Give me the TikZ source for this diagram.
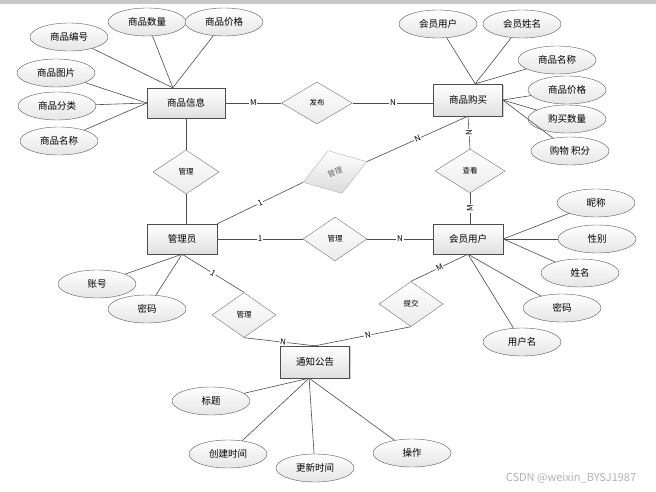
\documentclass[tikz,border=0pt]{standalone}
\usepackage{fontspec}
\setmainfont{Noto Sans CJK SC}
\usetikzlibrary{shapes.geometric,shadows}

\begin{document}
\begin{tikzpicture}[x=1pt, y=-1pt,
    entidad/.style={rectangle, draw=black!70, top color=white, bottom color=black!12,
        minimum width=70pt, minimum height=30pt, font=\fontsize{9.5}{11}\selectfont,
        drop shadow={shadow xshift=1.2pt, shadow yshift=-1.2pt, fill=black!35}},
    atributo/.style={ellipse, draw=black!65, top color=white, bottom color=black!10,
        minimum width=78pt, minimum height=28pt, inner sep=0pt, font=\fontsize{9.5}{11}\selectfont},
    relacion/.style={diamond, draw=black!55, top color=white, bottom color=black!8,
        minimum width=66pt, minimum height=44pt, inner sep=0pt, font=\fontsize{7.5}{9}\selectfont},
    linea/.style={draw=black!70, line width=0.6pt},
    card/.style={fill=white, inner sep=0.8pt, font=\fontsize{8}{9}\selectfont}]

    % Fondo y marco
    \useasboundingbox (0,0) rectangle (656,492);
    \fill[white] (0,0) rectangle (656,492);
    \fill[black!22] (0,0) rectangle (656,4);

    % Entidades
    \node[entidad, minimum width=78pt] (xinxi) at (186,103) {商品信息};
    \node[entidad, minimum width=69pt, minimum height=32pt] (goumai) at (468,100) {商品购买};
    \node[entidad] (admin) at (182,239) {管理员};
    \node[entidad] (huiyuan) at (468,239) {会员用户};
    \node[entidad, minimum width=69pt, minimum height=32pt] (gonggao) at (315,362) {通知公告};

    % Relaciones
    \node[relacion, minimum width=71pt, minimum height=42pt] (fabu) at (317,103) {发布};
    \node[relacion] (guanliA) at (186,172) {管理};
    \node[relacion, rotate=18, minimum width=67pt, minimum height=45pt, draw=black!30,
        bottom color=black!14, text=black!60] (guanliB) at (335,172) {管理};
    \node[relacion, minimum width=70pt] (chakan) at (470,171) {查看};
    \node[relacion, minimum width=64pt] (guanliC) at (335,239) {管理};
    \node[relacion, minimum width=64pt, minimum height=45pt] (guanliD) at (244,315) {管理};
    \node[relacion, minimum width=64pt, minimum height=45pt] (tijiao) at (411,304) {提交};

    % Atributos de 商品信息
    \node[atributo] (sp1) at (69,37) {商品编号};
    \node[atributo] (sp2) at (147,22) {商品数量};
    \node[atributo] (sp3) at (224,22) {商品价格};
    \node[atributo] (sp4) at (56,73) {商品图片};
    \node[atributo] (sp5) at (57,106) {商品分类};
    \node[atributo] (sp6) at (59,141) {商品名称};

    % Atributos de 商品购买
    \node[atributo] (gm1) at (438,24) {会员用户};
    \node[atributo] (gm2) at (522,24) {会员姓名};
    \node[atributo] (gm3) at (557,60) {商品名称};
    \node[atributo] (gm4) at (567,90) {商品价格};
    \node[atributo] (gm5) at (567,119) {购买数量};
    \node[atributo] (gm6) at (570,151) {购物 积分};

    % Atributos de 会员用户
    \node[atributo] (hy1) at (596,203) {昵称};
    \node[atributo] (hy2) at (597,239) {性别};
    \node[atributo] (hy3) at (580,273) {姓名};
    \node[atributo] (hy4) at (562,308) {密码};
    \node[atributo] (hy5) at (522,342) {用户名};

    % Atributos de 管理员
    \node[atributo] (ad1) at (97,284) {账号};
    \node[atributo] (ad2) at (147,309) {密码};

    % Atributos de 通知公告
    \node[atributo] (gg1) at (211,401) {标题};
    \node[atributo] (gg2) at (228,454) {创建时间};
    \node[atributo] (gg3) at (315,468) {更新时间};
    \node[atributo] (gg4) at (412,453) {操作};

    % Lineas de atributos
    \draw[linea] (sp1) -- (xinxi.131);
    \draw[linea] (sp2) -- (xinxi.131);
    \draw[linea] (sp3) -- (xinxi.131);
    \draw[linea] (sp4) -- (xinxi.west);
    \draw[linea] (sp5) -- (xinxi.west);
    \draw[linea] (sp6) -- (xinxi.west);
    \draw[linea] (gm1) -- (goumai.66);
    \draw[linea] (gm2) -- (goumai.66);
    \draw[linea] (gm3) -- (goumai.66);
    \draw[linea] (gm4) -- (goumai.east);
    \draw[linea] (gm5) -- (goumai.east);
    \draw[linea] (gm6) -- (goumai.east);
    \draw[linea] (hy1) -- (huiyuan.east);
    \draw[linea] (hy2) -- (huiyuan.east);
    \draw[linea] (hy3) -- (huiyuan.east);
    \draw[linea] (hy4) -- (huiyuan.south);
    \draw[linea] (hy5) -- (huiyuan.south);
    \draw[linea] (ad1) -- (admin.south);
    \draw[linea] (ad2) -- (admin.south);
    \draw[linea] (gg1) -- (gonggao.250);
    \draw[linea] (gg2) -- (gonggao.250);
    \draw[linea] (gg3) -- (gonggao.250);
    \draw[linea] (gg4) -- (gonggao.250);

    % Lineas de relaciones con cardinalidad
    \draw[linea] (xinxi) -- (fabu) node[card, midway] {M};
    \draw[linea] (fabu.east) -- (fabu.east -| goumai.west) node[card, midway] {N};
    \draw[linea] (xinxi.south -| guanliA.north) -- (guanliA.north);
    \draw[linea] (guanliA.south) -- (guanliA.south |- admin.north);
    \draw[linea] (admin.north east) -- (guanliB.west) node[card, midway, sloped] {1};
    \draw[linea] (guanliB.east) -- (goumai.south) node[card, midway, sloped] {N};
    \draw[linea] (goumai.south) -- (chakan.north) node[card, midway, rotate=90] {N};
    \draw[linea] (chakan.south) -- (chakan.south |- huiyuan.north) node[card, midway, rotate=90] {M};
    \draw[linea] (admin) -- (guanliC) node[card, midway] {1};
    \draw[linea] (guanliC) -- (huiyuan) node[card, midway] {N};
    \draw[linea] (admin.south) -- (guanliD.north) node[card, midway, sloped] {1};
    \draw[linea] (guanliD.south) -- (gonggao.north) node[card, pos=0.55, sloped] {N};
    \draw[linea] (huiyuan.south) -- (tijiao.north) node[card, midway, sloped] {M};
    \draw[linea] (tijiao.south) -- (gonggao.north) node[card, pos=0.45, sloped] {N};

    % Marca de agua
    \node[text=black!30, font=\fontsize{11}{13}\selectfont] (marca) at (571,478) {CSDN @weixin\_BYSJ1987};
\end{tikzpicture}
\end{document}
